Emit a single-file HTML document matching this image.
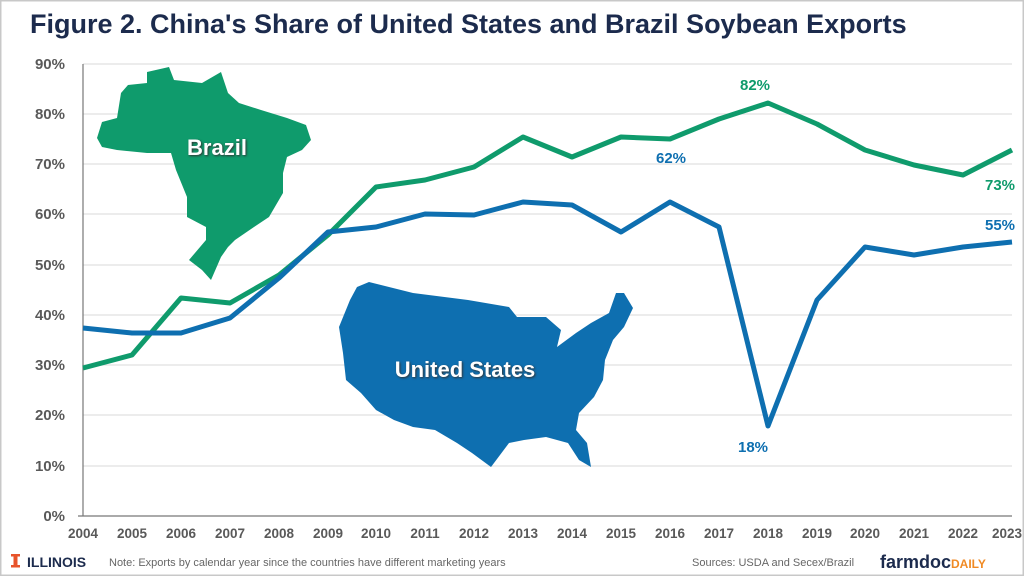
<!DOCTYPE html>
<html><head><style>
body{margin:0;width:1024px;height:576px;overflow:hidden;background:#fff;font-family:"Liberation Sans",sans-serif}
</style></head><body>
<svg width="1024" height="576" viewBox="0 0 1024 576" xmlns="http://www.w3.org/2000/svg" font-family="Liberation Sans, sans-serif">
<rect x="0.75" y="0.75" width="1022.5" height="574.5" fill="#fff" stroke="#c8c8c8" stroke-width="1.5"/>
<text x="30" y="33" font-size="27" font-weight="bold" fill="#1c2b4d">Figure 2. China's Share of United States and Brazil Soybean Exports</text>
<g stroke="#e0e0e0" stroke-width="1.2">
<line x1="83" x2="1012" y1="64" y2="64"/><line x1="83" x2="1012" y1="114" y2="114"/><line x1="83" x2="1012" y1="164" y2="164"/><line x1="83" x2="1012" y1="214" y2="214"/><line x1="83" x2="1012" y1="265" y2="265"/><line x1="83" x2="1012" y1="315" y2="315"/><line x1="83" x2="1012" y1="365" y2="365"/><line x1="83" x2="1012" y1="415" y2="415"/><line x1="83" x2="1012" y1="466" y2="466"/>
</g>
<line x1="83" y1="64" x2="83" y2="516" stroke="#777" stroke-width="1.2"/>
<line x1="78" y1="516" x2="1012" y2="516" stroke="#777" stroke-width="1.2"/>
<g font-size="15" font-weight="bold" fill="#595959" text-anchor="end">
<text x="65" y="69">90%</text><text x="65" y="119">80%</text><text x="65" y="169">70%</text><text x="65" y="219">60%</text><text x="65" y="270">50%</text><text x="65" y="320">40%</text><text x="65" y="370">30%</text><text x="65" y="420">20%</text><text x="65" y="471">10%</text><text x="65" y="521">0%</text>
</g>
<g font-size="13.5" font-weight="bold" fill="#595959" text-anchor="middle">
<text x="83" y="538">2004</text><text x="132" y="538">2005</text><text x="181" y="538">2006</text><text x="230" y="538">2007</text><text x="279" y="538">2008</text><text x="328" y="538">2009</text><text x="376" y="538">2010</text><text x="425" y="538">2011</text><text x="474" y="538">2012</text><text x="523" y="538">2013</text><text x="572" y="538">2014</text><text x="621" y="538">2015</text><text x="670" y="538">2016</text><text x="719" y="538">2017</text><text x="768" y="538">2018</text><text x="817" y="538">2019</text><text x="865" y="538">2020</text><text x="914" y="538">2021</text><text x="963" y="538">2022</text><text x="1007" y="538">2023</text>
</g>
<polygon fill="#0f9b6c" points="97,138 102,122 117,118 121,93 128,85 147,83 147,72 169,67 174,80 202,83 221,72 228,93 239,103 261,110 287,118 306,125 311,140 302,150 287,157 283,173 283,193 269,217 254,227 235,240 228,247 221,257 211,280 202,270 189,260 206,240 206,227 187,217 187,197 176,170 171,153 147,153 117,150 102,147"/>
<text x="217" y="155" font-size="22" font-weight="bold" fill="#fff" text-anchor="middle" style="text-shadow:1px 1px 2px #333">Brazil</text>
<polygon fill="#0e6fb0" points="369,282 413,293 468,300 509,307 517,317 546,317 561,330 557,347 576,333 591,323 609,313 616,293 624,293 633,308 624,327 613,340 605,360 603,380 594,397 579,413 576,430 587,443 591,467 579,460 568,443 546,437 524,440 509,443 491,467 472,453 457,443 435,430 413,427 394,420 376,410 361,393 346,380 343,353 339,327 350,300 357,287"/>
<text x="465" y="377" font-size="22" font-weight="bold" fill="#fff" text-anchor="middle" style="text-shadow:1px 1px 2px #333">United States</text>
<polyline fill="none" stroke="#0f9b6c" stroke-width="5" stroke-linejoin="round" points="83,368 132,355 181,298 230,303 279,275 328,235 376,187 425,180 474,167 523,137 572,157 621,137 670,139 719,119 768,103 817,124 865,150 914,165 963,175 1012,150"/>
<polyline fill="none" stroke="#0e6fb0" stroke-width="5" stroke-linejoin="round" points="83,328 132,333 181,333 230,318 279,278 328,232 376,227 425,214 474,215 523,202 572,205 621,232 670,202 719,227 768,426 817,300 865,247 914,255 963,247 1012,242"/>
<g font-size="15" font-weight="bold" text-anchor="middle">
<text x="755" y="90" fill="#0f9b6c">82%</text>
<text x="1000" y="190" fill="#0f9b6c">73%</text>
<text x="671" y="163" fill="#0e6fb0">62%</text>
<text x="1000" y="230" fill="#0e6fb0">55%</text>
<text x="753" y="452" fill="#0e6fb0">18%</text>
</g>
<g>
<rect x="11" y="554" width="9" height="2.5" fill="#e8542b"/><rect x="13.5" y="556" width="4" height="9" fill="#e8542b"/><rect x="11" y="565" width="9" height="2.5" fill="#e8542b"/>
<text x="27" y="567" font-size="14" font-weight="bold" fill="#1c2b4d">ILLINOIS</text>
<text x="109" y="566" font-size="11" fill="#666">Note: Exports by calendar year since the countries have different marketing years</text>
<text x="692" y="566" font-size="11" fill="#666">Sources: USDA and Secex/Brazil</text>
<text x="880" y="568" font-size="18" font-weight="bold" fill="#1c2b4d">farmdoc<tspan font-size="12" fill="#f08a24">DAILY</tspan></text>
</g>
</svg>
</body></html>
